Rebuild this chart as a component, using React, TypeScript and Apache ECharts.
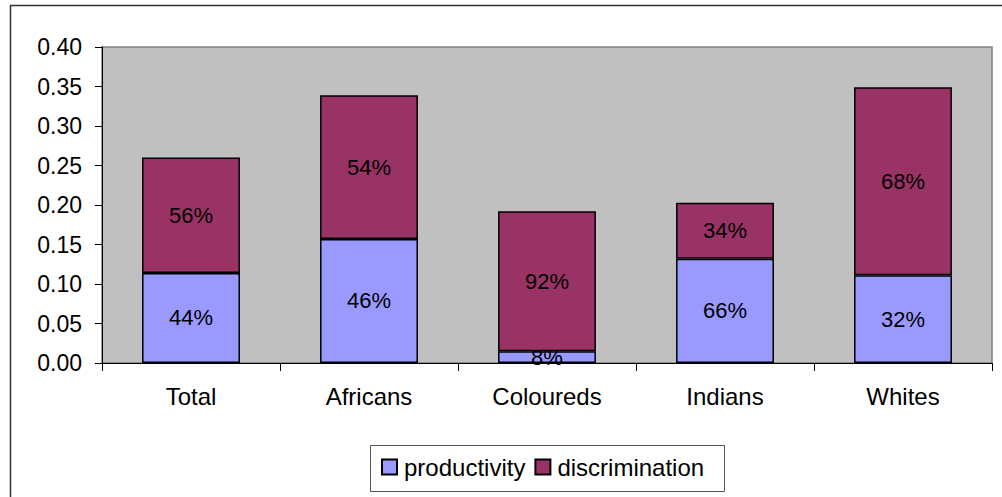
import React, { useEffect, useRef } from "react";
import * as echarts from "echarts";

const categories = ["Total", "Africans", "Coloureds", "Indians", "Whites"];
const productivity = [0.114, 0.157, 0.015, 0.132, 0.111];
const discrimination = [0.146, 0.182, 0.177, 0.071, 0.238];
const productivityShare = ["44%", "46%", "8%", "66%", "32%"];
const discriminationShare = ["56%", "54%", "92%", "34%", "68%"];
const seriesNames = ["productivity", "discrimination"];

const FONT = "Liberation Sans, Arial, sans-serif";

export default function App() {
  const ref = useRef<HTMLDivElement>(null);
  useEffect(() => {
    if (!ref.current) return;
    const chart = echarts.init(ref.current, null, { renderer: "svg" });
    chart.setOption({
      animation: false,
      textStyle: { fontFamily: FONT },
      graphic: [
        {
          type: "rect",
          shape: { x: 10.5, y: 5.5, width: 1000, height: 500 },
          style: { fill: "none", stroke: "#333", lineWidth: 1.5 },
          silent: true,
          z: -10,
        },
        {
          type: "rect",
          shape: { x: 370.5, y: 445.5, width: 354, height: 46 },
          style: { fill: "#fff", stroke: "#555", lineWidth: 1 },
          silent: true,
          z: -5,
        },
      ],
      grid: {
        left: 102,
        top: 47,
        right: 10,
        bottom: 134,
        show: true,
        backgroundColor: "#C0C0C0",
        borderColor: "#808080",
        borderWidth: 1.5,
      },
      legend: {
        data: seriesNames,
        left: 381,
        top: 455,
        itemWidth: 15,
        itemHeight: 15,
        itemGap: 9,
        padding: 0,
        icon: "rect",
        textStyle: { fontFamily: FONT, fontSize: 24, color: "#000", padding: [0, 0, 0, 2] },
      },
      xAxis: {
        type: "category",
        data: categories,
        axisLine: { lineStyle: { color: "#000", width: 1 } },
        axisTick: { show: true, length: 8, lineStyle: { color: "#000" } },
        axisLabel: { fontFamily: FONT, fontSize: 24, color: "#000", margin: 21 },
      },
      yAxis: {
        type: "value",
        min: 0,
        max: 0.4,
        interval: 0.05,
        axisLine: { show: true, lineStyle: { color: "#000", width: 1 } },
        axisTick: { show: true, length: 7, lineStyle: { color: "#000" } },
        splitLine: { show: false },
        axisLabel: {
          fontFamily: FONT,
          fontSize: 23,
          color: "#000",
          margin: 20,
          formatter: (v: number) => v.toFixed(2),
        },
      },
      series: [
        {
          name: seriesNames[0],
          type: "bar",
          stack: "total",
          barWidth: "55%",
          data: productivity,
          itemStyle: { color: "#9999FF", borderColor: "#000", borderWidth: 1.5 },
          label: {
            show: true,
            position: "inside",
            color: "#000",
            fontFamily: FONT,
            fontSize: 22,
            formatter: (p: any) => productivityShare[p.dataIndex],
          },
        },
        {
          name: seriesNames[1],
          type: "bar",
          stack: "total",
          barWidth: "55%",
          data: discrimination,
          itemStyle: { color: "#993366", borderColor: "#000", borderWidth: 1.5 },
          label: {
            show: true,
            position: "inside",
            color: "#000",
            fontFamily: FONT,
            fontSize: 22,
            formatter: (p: any) => discriminationShare[p.dataIndex],
          },
        },
      ],
    });
    return () => chart.dispose();
  }, []);
  return (
    <div
      ref={ref}
      style={{ position: "fixed", left: 0, top: 0, width: 1002, height: 497, background: "#fff" }}
    />
  );
}
